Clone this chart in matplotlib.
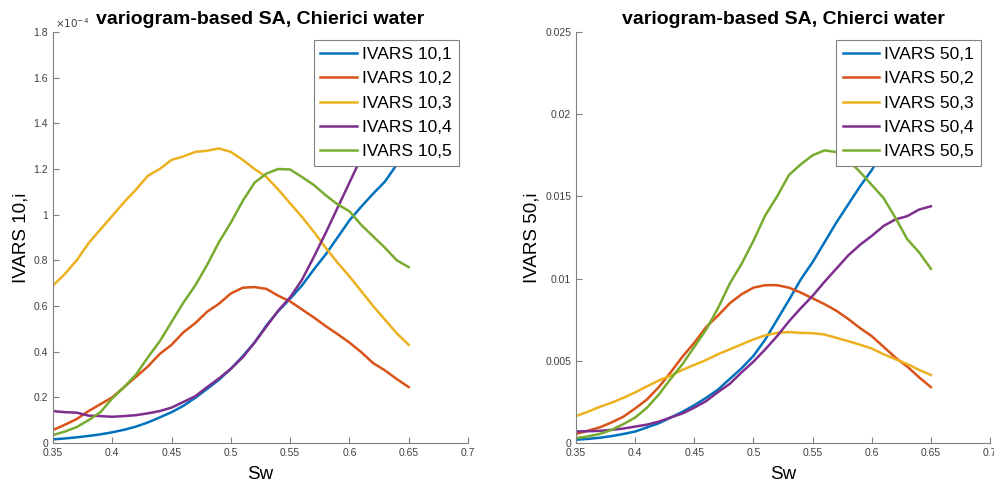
import matplotlib
matplotlib.use("Agg")
import matplotlib.pyplot as plt
from matplotlib.ticker import FuncFormatter, MultipleLocator

sw = [0.35, 0.36, 0.37, 0.38, 0.39, 0.40, 0.41, 0.42, 0.43, 0.44, 0.45,
      0.46, 0.47, 0.48, 0.49, 0.50, 0.51, 0.52, 0.53, 0.54, 0.55,
      0.56, 0.57, 0.58, 0.59, 0.60, 0.61, 0.62, 0.63, 0.64, 0.65]

# IVARS 10 (units of 1e-4)
ivars10_1 = [0.016, 0.020, 0.025, 0.031, 0.038, 0.047, 0.058, 0.072, 0.090, 0.112, 0.135,
             0.163, 0.198, 0.237, 0.277, 0.325, 0.380, 0.440, 0.515, 0.578, 0.632,
             0.690, 0.760, 0.826, 0.900, 0.975, 1.035, 1.092, 1.145, 1.220, 1.280]
ivars10_2 = [0.057, 0.080, 0.105, 0.140, 0.170, 0.200, 0.245, 0.290, 0.335, 0.390, 0.430,
             0.485, 0.525, 0.575, 0.610, 0.655, 0.680, 0.683, 0.675, 0.645, 0.620,
             0.585, 0.550, 0.512, 0.477, 0.440, 0.398, 0.350, 0.318, 0.280, 0.245]
ivars10_3 = [0.690, 0.740, 0.800, 0.875, 0.935, 0.995, 1.055, 1.110, 1.170, 1.200, 1.240,
             1.255, 1.275, 1.280, 1.290, 1.275, 1.240, 1.200, 1.165, 1.110, 1.050,
             0.990, 0.925, 0.855, 0.790, 0.730, 0.665, 0.600, 0.540, 0.480, 0.430]
ivars10_4 = [0.140, 0.135, 0.133, 0.120, 0.118, 0.115, 0.118, 0.122, 0.130, 0.140, 0.155,
             0.180, 0.205, 0.245, 0.283, 0.325, 0.375, 0.440, 0.510, 0.580, 0.638,
             0.715, 0.815, 0.920, 1.030, 1.140, 1.250, 1.350, 1.450, 1.550, 1.650]
ivars10_5 = [0.035, 0.050, 0.070, 0.100, 0.135, 0.195, 0.245, 0.300, 0.375, 0.445, 0.530,
             0.615, 0.690, 0.780, 0.880, 0.965, 1.060, 1.140, 1.180, 1.200, 1.198,
             1.165, 1.130, 1.085, 1.045, 1.015, 0.955, 0.905, 0.855, 0.800, 0.770]

# IVARS 50 (units of 1e-3)
ivars50_1 = [0.20, 0.25, 0.32, 0.42, 0.55, 0.70, 0.95, 1.20, 1.55, 1.90, 2.30,
             2.75, 3.25, 3.90, 4.55, 5.30, 6.30, 7.50, 8.70, 9.95, 11.00,
             12.20, 13.40, 14.50, 15.60, 16.60, 17.80, 19.00, 20.10, 21.20, 22.30]
ivars50_2 = [0.55, 0.75, 0.95, 1.25, 1.60, 2.10, 2.65, 3.40, 4.30, 5.25, 6.10,
             7.05, 7.75, 8.50, 9.05, 9.45, 9.60, 9.60, 9.45, 9.15, 8.80,
             8.45, 8.05, 7.55, 7.00, 6.50, 5.85, 5.20, 4.65, 4.00, 3.40]
ivars50_3 = [1.64, 1.90, 2.20, 2.45, 2.75, 3.08, 3.45, 3.80, 4.10, 4.45, 4.75,
             5.05, 5.40, 5.70, 6.00, 6.30, 6.55, 6.70, 6.75, 6.70, 6.68,
             6.60, 6.40, 6.20, 5.98, 5.75, 5.40, 5.10, 4.80, 4.45, 4.14]
ivars50_4 = [0.70, 0.72, 0.74, 0.80, 0.88, 1.00, 1.12, 1.30, 1.55, 1.80, 2.15,
             2.55, 3.10, 3.60, 4.30, 4.95, 5.70, 6.50, 7.40, 8.20, 8.95,
             9.80, 10.60, 11.40, 12.05, 12.60, 13.20, 13.60, 13.80, 14.20, 14.40]
ivars50_5 = [0.30, 0.40, 0.55, 0.80, 1.15, 1.55, 2.15, 2.95, 3.90, 4.80, 5.85,
             6.90, 8.20, 9.70, 10.90, 12.30, 13.85, 15.00, 16.30, 16.95, 17.50,
             17.80, 17.70, 17.20, 16.50, 15.70, 14.90, 13.70, 12.40, 11.60, 10.60]

labels10 = ["IVARS 10,1", "IVARS 10,2", "IVARS 10,3", "IVARS 10,4", "IVARS 10,5"]
labels50 = ["IVARS 50,1", "IVARS 50,2", "IVARS 50,3", "IVARS 50,4", "IVARS 50,5"]
colors = ["#0072BD", "#D95319", "#EDB120", "#7E2F8E", "#77AC30"]

plt.rcParams['font.family'] = ['Liberation Sans', 'DejaVu Sans']

fig = plt.figure(figsize=(9.94, 4.87), dpi=100)
axL = fig.add_axes([0.0533, 0.0903, 0.4175, 0.844])
axR = fig.add_axes([0.5795, 0.0903, 0.4165, 0.844])

series10 = [ivars10_1, ivars10_2, ivars10_3, ivars10_4, ivars10_5]
series50 = [[v * 1e-3 for v in s] for s in [ivars50_1, ivars50_2, ivars50_3, ivars50_4, ivars50_5]]

for s, lab, c in zip(series10, labels10, colors):
    axL.plot(sw, s, color=c, lw=1.8, label=lab)
for s, lab, c in zip(series50, labels50, colors):
    axR.plot(sw, s, color=c, lw=1.8, label=lab)

fmt = FuncFormatter(lambda v, p: "%g" % round(v, 6))
for ax, ylab, ymax, ystep in [(axL, "IVARS 10,i", 1.8, 0.2), (axR, "IVARS 50,i", 0.025, 0.005)]:
    ax.set_xlim(0.35, 0.7)
    ax.set_ylim(0, ymax)
    ax.xaxis.set_major_locator(MultipleLocator(0.05))
    ax.yaxis.set_major_locator(MultipleLocator(ystep))
    ax.xaxis.set_major_formatter(fmt)
    ax.yaxis.set_major_formatter(fmt)
    for sp in ["top", "right"]:
        ax.spines[sp].set_visible(False)
    for sp in ["left", "bottom"]:
        ax.spines[sp].set_color("#808080")
        ax.spines[sp].set_linewidth(0.8)
    ax.tick_params(direction="in", length=4, width=0.8, colors="#808080",
                   labelcolor="#404040", labelsize=7.5)
    ax.set_xlabel("Sw", fontsize=13.5, labelpad=6)
    ax.set_ylabel(ylab, fontsize=13.5, labelpad=3)
    ax.set_title("variogram-based SA, Chierci water" if ax is axR else
                 "variogram-based SA, Chierici water",
                 fontsize=14, fontweight="bold", pad=6)
    leg = ax.legend(loc="upper right", bbox_to_anchor=(0.978, 0.98), borderaxespad=0,
                    fontsize=12.5, fancybox=False, framealpha=1, edgecolor="#808080",
                    handlelength=2.1, handletextpad=0.3, labelspacing=0.52,
                    borderpad=0.4)
    leg.get_frame().set_linewidth(0.8)

axL.text(0.005, 1.005, r"$\times10^{-4}$", transform=axL.transAxes, fontsize=7.5,
         color="#404040", ha="left", va="bottom")

fig.savefig("out.png", dpi=100)
